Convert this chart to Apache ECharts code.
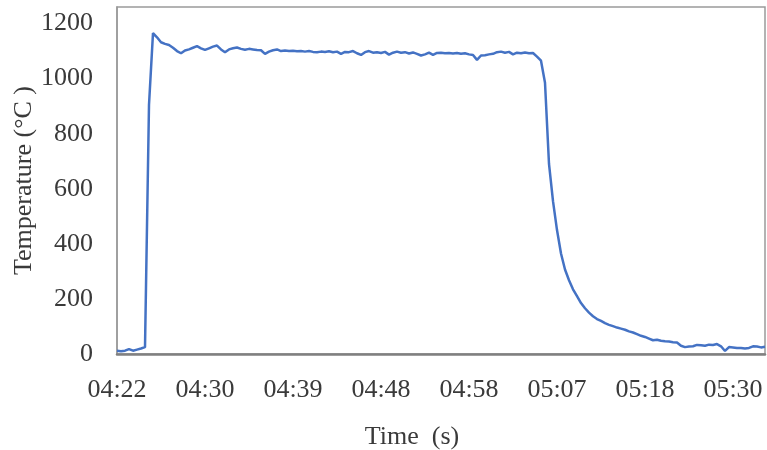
<!DOCTYPE html>
<html>
<head>
<meta charset="utf-8">
<script src="https://cdn.jsdelivr.net/npm/echarts@6/dist/echarts.min.js"></script>
<style>
  html, body { margin: 0; padding: 0; background: #fff; }
  #chart { width: 767px; height: 450px; }
</style>
</head>
<body>
<div id="chart"></div>
<script>
// Time labels shown every 22 samples along the x axis
const timeLabels = ['04:22', '04:30', '04:39', '04:48', '04:58', '05:07', '05:18', '05:30'];
const samplesPerLabel = 22;

// Furnace temperature readings (°C), one per sample
const temperature = [
  12, 10, 12, 18, 12, 16, 20, 25, 905, 1165,
  1150, 1132, 1126, 1122, 1112, 1100, 1092, 1102, 1106, 1112,
  1118, 1110, 1104, 1110, 1116, 1120, 1106, 1096, 1106, 1110,
  1113, 1108, 1105, 1108, 1106, 1104, 1103, 1090, 1098, 1103,
  1106, 1100, 1102, 1100, 1101, 1099, 1100, 1098, 1100, 1097,
  1096, 1098, 1097, 1099, 1096, 1098, 1090, 1097, 1096, 1100,
  1092, 1086, 1096, 1100, 1094, 1096, 1093, 1097, 1087, 1094,
  1098, 1094, 1096, 1091, 1095, 1090, 1084, 1088, 1094, 1086,
  1093, 1094, 1092, 1093, 1091, 1093, 1090, 1092, 1088, 1086,
  1068, 1084, 1085, 1088, 1090, 1096, 1098, 1094, 1097, 1088,
  1094, 1092, 1095, 1092, 1093, 1080, 1065, 985, 690, 555,
  450, 365, 307, 268, 235, 210, 185, 166, 150, 137,
  127, 120, 112, 106, 101, 96, 92, 88, 82, 78,
  72, 66, 62, 56, 50, 52, 48, 46, 45, 43,
  42, 30, 25, 27, 28, 33, 32, 30, 34, 33,
  36, 28, 11, 25, 24, 22, 22, 20, 22, 28,
  27, 24, 26
];

const yTicks = { min: 0, max: 1260, interval: 200 };

const textColor = '#3a3a3a';
const serif = '"Liberation Serif", "DejaVu Serif", serif';

const chart = echarts.init(document.getElementById('chart'), null, { renderer: 'canvas' });

chart.setOption({
  animation: false,
  backgroundColor: '#ffffff',
  grid: {
    left: 117,
    right: 2,
    top: 7,
    bottom: 96,
    show: true,
    borderColor: '#9a9a9a',
    borderWidth: 1.5,
    containLabel: false,
    outerBoundsMode: 'none'
  },
  xAxis: {
    type: 'value',
    min: 0,
    max: temperature.length - 1,
    interval: samplesPerLabel,
    name: 'Time  (s)',
    nameLocation: 'middle',
    nameGap: 70,
    nameMoveOverlap: false,
    nameTextStyle: {
      fontFamily: serif,
      fontSize: 26,
      color: textColor,
      padding: [0, 58, 0, 0]
    },
    axisLine: { show: true, lineStyle: { color: '#808080', width: 2.5 } },
    axisTick: { show: false },
    splitLine: { show: false },
    axisLabel: {
      showMaxLabel: false,
      margin: 23,
      fontFamily: serif,
      fontSize: 26,
      color: textColor,
      formatter: function (v) {
        const k = Math.round(v / samplesPerLabel);
        return timeLabels[k] !== undefined ? timeLabels[k] : '';
      }
    }
  },
  yAxis: {
    type: 'value',
    min: yTicks.min,
    max: yTicks.max,
    interval: yTicks.interval,
    name: 'Temperature (°C )',
    nameLocation: 'middle',
    nameGap: 80,
    nameMoveOverlap: false,
    nameTextStyle: {
      fontFamily: serif,
      fontSize: 26,
      color: textColor
    },
    axisLine: { show: true, lineStyle: { color: '#9a9a9a', width: 1.5 } },
    axisTick: { show: false },
    splitLine: { show: false },
    axisLabel: {
      showMaxLabel: false,
      margin: 24,
      fontFamily: serif,
      fontSize: 26,
      color: textColor,
      formatter: function (v) { return String(v); }
    }
  },
  series: [{
    type: 'line',
    data: temperature.map((v, i) => [i, v]),
    showSymbol: false,
    symbol: 'none',
    lineStyle: { color: '#4472c4', width: 2.5 },
    itemStyle: { color: '#4472c4' }
  }]
});
</script>
</body>
</html>
